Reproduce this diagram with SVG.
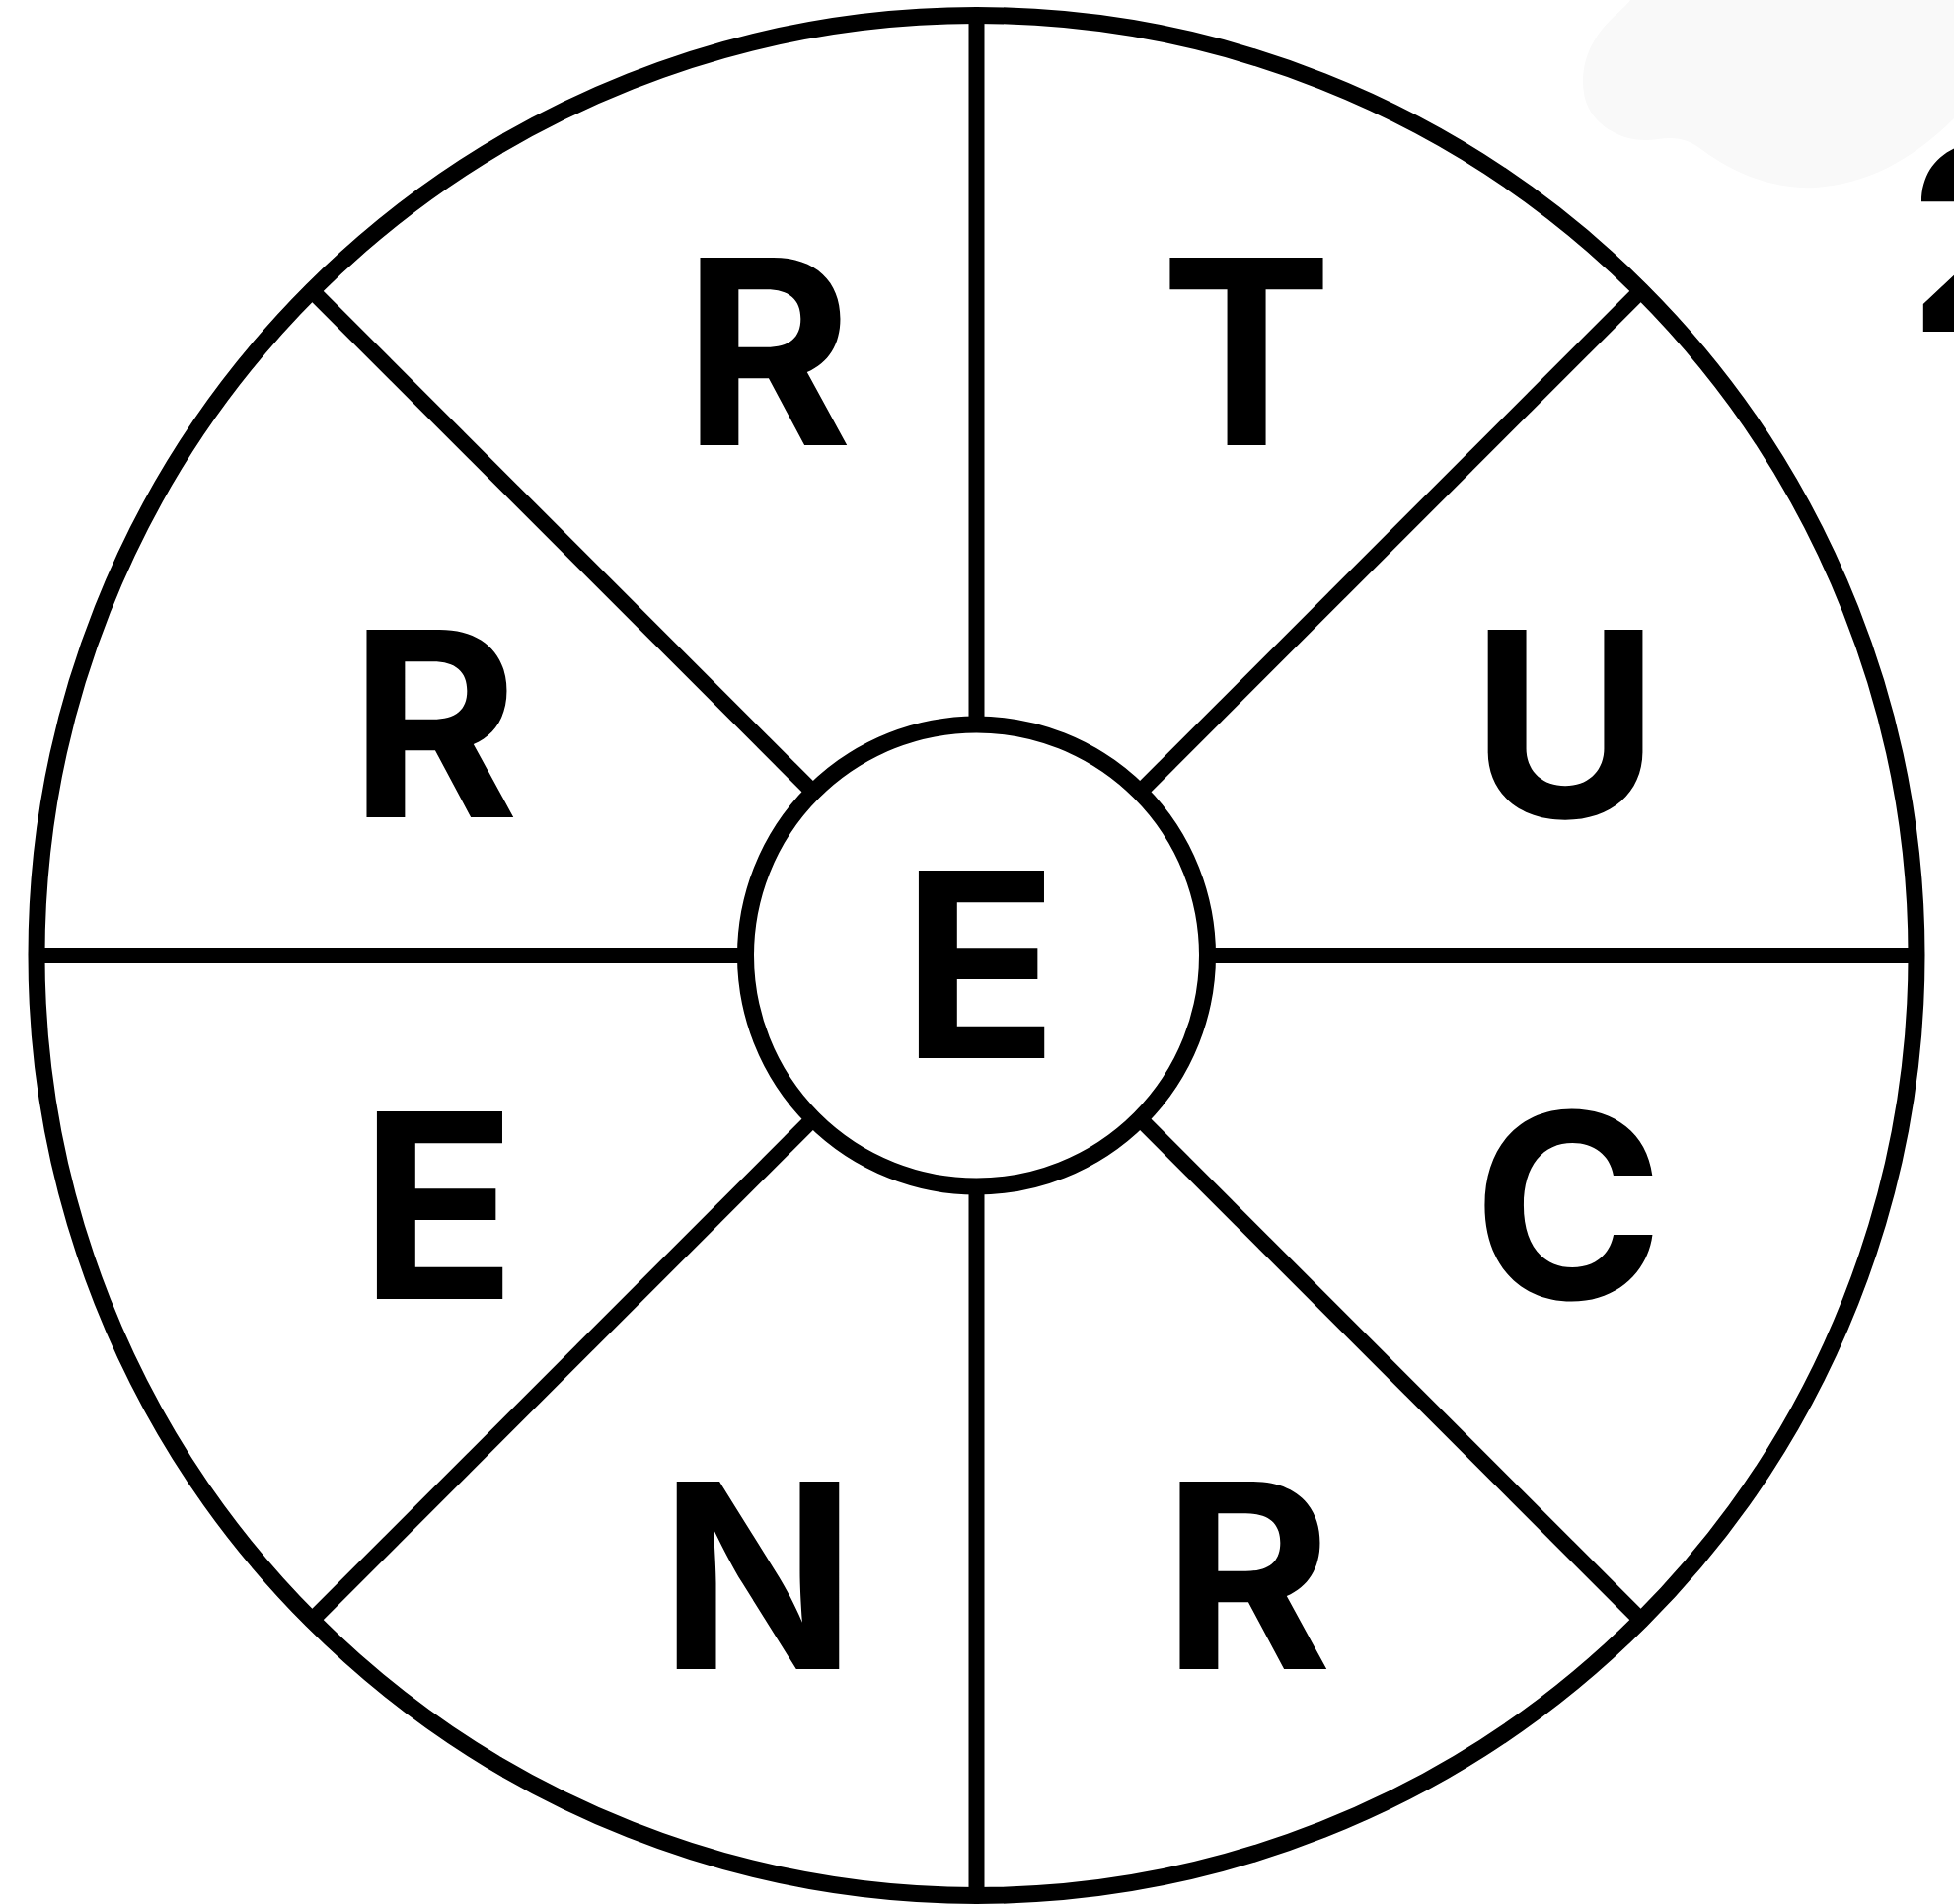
<svg xmlns="http://www.w3.org/2000/svg" width="1980" height="1929" viewBox="0 0 1980 1929">
<style>
.ring{fill:none;stroke:#000;stroke-width:17}
.spoke{stroke:#000;stroke-width:16;fill:none}
.lt{font-family:Inter,"Liberation Sans",sans-serif;font-weight:700;font-size:261px;fill:#000;text-anchor:middle}
</style>
<rect width="1980" height="1929" fill="#fff"/>
<path id="blob" d="M1652,0 C1645,10 1628,20 1615,42 C1603,62 1600,90 1610,110 C1622,132 1650,146 1680,141 C1700,138 1712,142 1725,152 C1760,178 1800,192 1840,190 C1890,186 1935,165 1980,120 L1980,0 Z" fill="#f9f9f9"/>
<g id="connectors">
<line class="spoke" x1="989.5" y1="734" x2="989.5" y2="15.5"/>
<line class="spoke" x1="989.5" y1="1202" x2="989.5" y2="1920.5"/>
<line class="spoke" x1="755.5" y1="968" x2="37" y2="968"/>
<line class="spoke" x1="1223.5" y1="968" x2="1942" y2="968"/>
<line class="spoke" x1="1155" y1="802.5" x2="1663" y2="294.5"/>
<line class="spoke" x1="824" y1="802.5" x2="316" y2="294.5"/>
<line class="spoke" x1="1155" y1="1133.5" x2="1663" y2="1641.5"/>
<line class="spoke" x1="824" y1="1133.5" x2="316" y2="1641.5"/>
</g>
<g id="outer"><circle class="ring" cx="989.5" cy="968" r="952.5"/></g>
<g id="center"><circle class="ring" cx="989.5" cy="968" r="234"/><text class="lt" x="993" y="1072">E</text></g>
<g id="seg-r-top"><text class="lt" x="778" y="451">R</text></g>
<g id="seg-t"><text class="lt" x="1263" y="451">T</text></g>
<g id="seg-u"><text class="lt" x="1586" y="828">U</text></g>
<g id="seg-c"><text class="lt" x="1589" y="1316">C</text></g>
<g id="seg-r-bottom"><text class="lt" x="1264" y="1691">R</text></g>
<g id="seg-n"><text class="lt" x="768" y="1691">N</text></g>
<g id="seg-e-left"><text class="lt" x="444" y="1316">E</text></g>
<g id="seg-r-left"><text class="lt" x="440" y="828">R</text></g>
<text class="lt" style="text-anchor:start" x="1933" y="336">2</text>
</svg>
